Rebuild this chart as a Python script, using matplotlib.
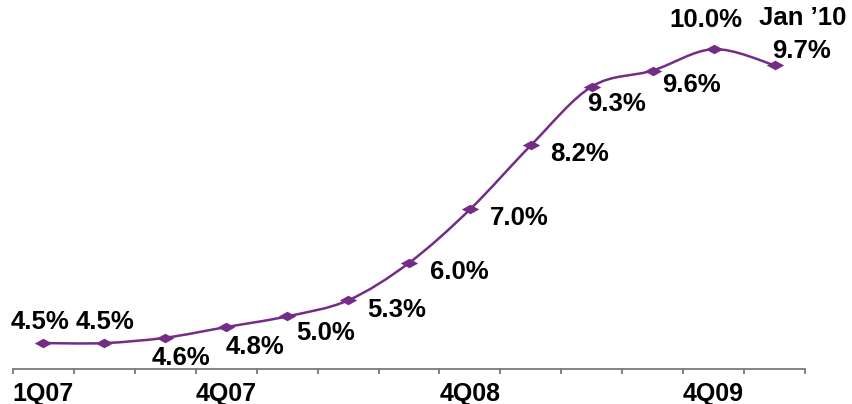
import matplotlib
matplotlib.use('Agg')
import matplotlib.pyplot as plt
import numpy as np
from matplotlib.path import Path
from matplotlib.patches import PathPatch

# Unemployment rate by quarter, last point is Jan '10
quarters = ['1Q07', '2Q07', '3Q07', '4Q07', '1Q08', '2Q08', '3Q08',
            '4Q08', '1Q09', '2Q09', '3Q09', '4Q09', "Jan ’10"]
rate = [4.5, 4.5, 4.6, 4.8, 5.0, 5.3, 6.0, 7.0, 8.2, 9.3, 9.6, 10.0, 9.7]
shown_ticks = ['1Q07', '4Q07', '4Q08', '4Q09']

purple = '#732D85'
plt.rcParams['font.family'] = ['Liberation Sans', 'DejaVu Sans']

fig = plt.figure(figsize=(8.52, 4.04), dpi=100)
ax = fig.add_axes([13 / 852, 35 / 404, 792 / 852, 369 / 404])

x = np.arange(1, len(rate) + 1)
y = np.array(rate)

# smoothed line (Catmull-Rom as cubic beziers, like Excel's smoothing)
verts = [(x[0], y[0])]
codes = [Path.MOVETO]
for i in range(len(x) - 1):
    p0 = np.array([x[max(i - 1, 0)], y[max(i - 1, 0)]])
    p1 = np.array([x[i], y[i]])
    p2 = np.array([x[i + 1], y[i + 1]])
    p3 = np.array([x[min(i + 2, len(x) - 1)], y[min(i + 2, len(x) - 1)]])
    c1 = p1 + (p2 - p0) / 6
    c2 = p2 - (p3 - p1) / 6
    verts += [tuple(c1), tuple(c2), tuple(p2)]
    codes += [Path.CURVE4] * 3
ax.add_patch(PathPatch(Path(verts, codes), fill=False, edgecolor=purple, lw=1.8))

diamond = [(-1, 0), (0, 0.55), (1, 0), (0, -0.55), (-1, 0)]
ax.plot(x, y, linestyle='none', marker=diamond, markersize=12.5,
        color=purple, markeredgewidth=0)

# label offsets in pixels
offsets = [(-3, 21), (1, 21), (16, -20), (29, -20), (38, -17), (49, -10),
           (50, -9), (49, -9), (49, -9), (25, -17), (39, -14), (-8, 29), (27, 14)]
for xi, yi, (dx, dy) in zip(x, y, offsets):
    ax.annotate(f'{yi:.1f}%', (xi, yi), xytext=(dx, dy), textcoords='offset pixels',
                ha='center', va='center', fontsize=18.5, fontweight='bold')
ax.annotate(quarters[-1], (x[-1], y[-1]), xytext=(28, 47), textcoords='offset pixels',
            ha='center', va='center', fontsize=18.5, fontweight='bold')

ax.set_xlim(0.5, len(rate) + 0.5)
ax.set_ylim(4.015, 10.92)

for s in ['left', 'right', 'top']:
    ax.spines[s].set_visible(False)
ax.spines['bottom'].set_color('#6E6E6E')
ax.spines['bottom'].set_linewidth(1.2)

ax.set_yticks([])
ax.set_xticks(np.arange(0.5, len(rate) + 1, 1))
ax.set_xticklabels([])
ax.tick_params(axis='x', which='major', direction='out', length=3.5, width=1.2,
               color='#6E6E6E')
ax.set_xticks([quarters.index(q) + 1 for q in shown_ticks], minor=True)
ax.set_xticklabels(shown_ticks, minor=True, fontsize=18, fontweight='bold')
ax.tick_params(axis='x', which='minor', length=0, pad=9)

fig.savefig('out.png', dpi=100)
